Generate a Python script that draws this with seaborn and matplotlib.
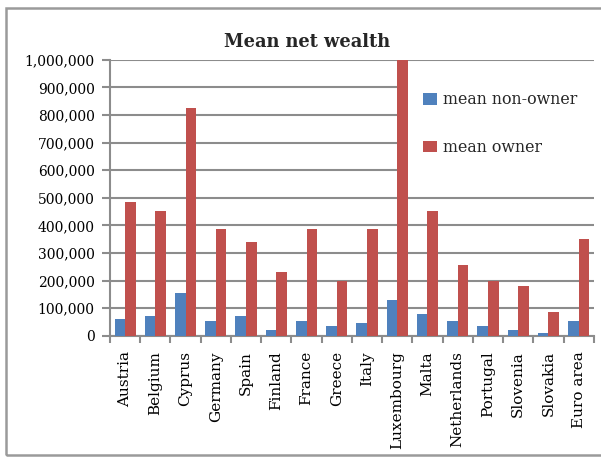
import matplotlib
matplotlib.use("Agg")
import matplotlib.pyplot as plt
from matplotlib.patches import Rectangle
from matplotlib.ticker import FuncFormatter, MultipleLocator, FixedLocator
import seaborn as sns
import pandas as pd

countries = ["Austria", "Belgium", "Cyprus", "Germany", "Spain", "Finland",
             "France", "Greece", "Italy", "Luxembourg", "Malta", "Netherlands",
             "Portugal", "Slovenia", "Slovakia", "Euro area"]
mean_non_owner = [62000, 72000, 156000, 54000, 72000, 20000, 54000, 36000,
                  47000, 130000, 80000, 54000, 36000, 21000, 11000, 54000]
mean_owner = [485000, 453000, 826000, 388000, 341000, 232000, 388000, 199000,
              388000, 1000000, 453000, 257000, 199000, 181000, 87000, 351000]
series_names = ["mean non-owner", "mean owner"]
series_colors = ["#4F81BD", "#C0504D"]

df = pd.DataFrame({
    "country": countries * 2,
    "value": mean_non_owner + mean_owner,
    "series": [series_names[0]] * len(countries) + [series_names[1]] * len(countries),
})

sns.set_theme(style="white")
plt.rcParams["font.family"] = ["DejaVu Serif"]

grid_color = "#8C8C8C"

fig = plt.figure(figsize=(6.01, 4.57), dpi=100)
ax = fig.add_axes([0.183, 0.265, 0.805, 0.604])

sns.barplot(data=df, x="country", y="value", hue="series",
            palette=series_colors, width=0.7, gap=0, saturation=1,
            edgecolor="none", linewidth=0, ax=ax, zorder=3)

ax.set_ylim(0, 1000000)
ax.set_xlim(-0.5, len(countries) - 0.5)
ax.yaxis.set_major_locator(MultipleLocator(100000))
ax.yaxis.set_major_formatter(FuncFormatter(lambda v, p: f"{v:,.0f}"))
ax.grid(axis="y", color=grid_color, linewidth=1.5, zorder=0)
ax.set_axisbelow(True)

ax.set_xlabel("")
ax.set_ylabel("")
ax.set_xticks(range(len(countries)))
ax.set_xticklabels(countries, rotation=90, fontsize=11, color="black")
ax.xaxis.set_minor_locator(FixedLocator([i - 0.5 for i in range(len(countries) + 1)]))
ax.tick_params(axis="x", which="major", length=0, pad=11)
ax.tick_params(axis="x", which="minor", bottom=True, length=5, width=1.5, color=grid_color)
ax.tick_params(axis="y", left=True, length=6, width=1.5, color=grid_color,
               labelsize=10, labelcolor="black", pad=5)

for side in ["top", "right"]:
    ax.spines[side].set_visible(False)
for side in ["left", "bottom"]:
    ax.spines[side].set_color(grid_color)
    ax.spines[side].set_linewidth(1.5)

fig.suptitle("Mean net wealth", x=0.511, y=0.928, fontsize=12.8, fontweight="bold")

# white legend panel spanning to the right edge of the plot, kept under the bars
leg = ax.legend(loc="upper left", bbox_to_anchor=(0.677, 0.835, 0.312, 0.0),
                bbox_transform=fig.transFigure, borderaxespad=0, mode="expand",
                fontsize=11.4, frameon=True, facecolor="white", edgecolor="none",
                framealpha=1, fancybox=False, borderpad=1.0, labelspacing=1.95,
                handlelength=0.9, handleheight=0.75, handletextpad=0.35, title=None)
leg.set_zorder(2.5)

fig.patches.append(Rectangle((6 / 601, 1 - 455 / 457), 1.0, 447 / 457,
                             transform=fig.transFigure, fill=False,
                             edgecolor="#9A9A9A", linewidth=1.8))

fig.savefig("out.png", dpi=100)
